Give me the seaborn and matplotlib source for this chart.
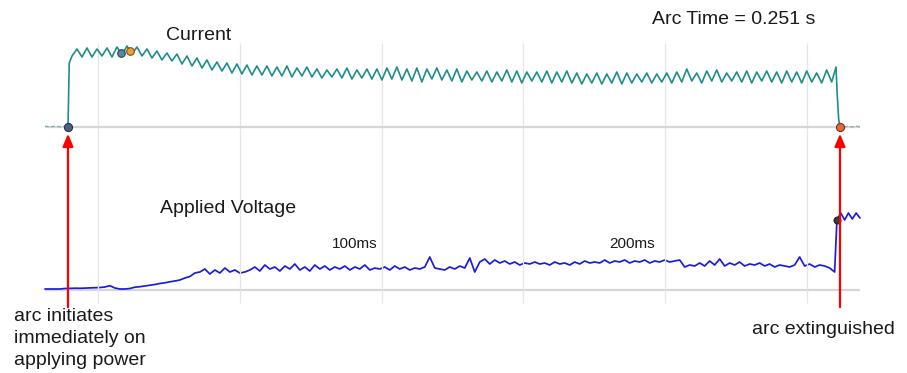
import numpy as np
import pandas as pd
import matplotlib
matplotlib.use("Agg")
import matplotlib.pyplot as plt
import seaborn as sns
from matplotlib.patches import FancyArrowPatch

sns.set_theme(style="white")
plt.rcParams["font.family"] = ["Liberation Sans", "DejaVu Sans"]

# ---------------------------------------------------------------- data
ARC_TIME_S = 0.251
ARC_END_MS = ARC_TIME_S * 1000.0
STEP_MS = 1.625            # spacing of the stored samples
PRE_MS = -7.5              # record starts before power is applied
POST_MS = 257.5            # record end
RIPPLE_START_MS = 1.3      # first ripple sample after the strike

# idle current before power is applied (A)
cur_pre = [1, 0, 1, 0, 1]
# strike: current jumps up when the arc forms
cur_strike = [0, 64]
# arc current, one sample per half ripple cycle (A)
cur_ripple = [
    71, 78, 70, 79, 70, 78, 71, 79, 70, 80, 72, 81, 73, 80, 71, 78, 69, 76, 67, 74,
    66, 73, 63, 71, 61, 69, 59, 67, 57, 65, 56, 64, 54, 63, 53, 62, 52, 61, 52, 61,
    51, 60, 51, 61, 50, 59, 51, 60, 50, 58, 49, 57, 50, 58, 49, 59, 48, 57, 49, 58,
    48, 58, 47, 59, 48, 60, 47, 58, 46, 59, 45, 58, 48, 59, 47, 57, 46, 58, 45, 56,
    47, 55, 46, 56, 45, 55, 46, 57, 45, 56, 44, 55, 46, 55, 45, 56, 44, 55, 45, 56,
    44, 54, 43, 53, 44, 54, 43, 53, 44, 55, 43, 54, 44, 53, 45, 54, 44, 53, 45, 54,
    44, 55, 45, 58, 46, 54, 44, 56, 46, 57, 45, 54, 46, 55, 45, 56, 44, 55, 46, 56,
    45, 55, 44, 56, 45, 55, 44, 56, 45, 54, 44, 57, 45,
]
# collapse at extinction (A)
cur_fall = [60, 30, 8, 0]
# idle current after the arc (A)
cur_post = [0, 1, 0, 1, 0]

# applied voltage from record start up to extinction (V)
volt_arc = [
    1, 1, 1, 1, 1.5, 1.7, 1.8, 1.7, 1.9, 2, 2.2, 2.5, 3, 4.3, 2, 1, 1, 1.5, 2.8, 3.3,
    4, 4.8, 5.5, 6.5, 7.2, 8.2, 9, 10, 12, 13.5, 17, 18, 21, 16, 20, 17, 22, 18, 20, 17,
    18, 20, 23, 19, 25, 21, 23, 19, 24, 21, 26, 20, 23, 19, 25, 21, 24, 20, 23, 21,
    24, 20, 23, 21, 25, 20, 22, 21, 23, 20, 24, 21, 23, 20, 22, 21, 23, 33, 22, 21,
    20, 23, 21, 24, 22, 32, 18, 28, 31, 26, 30, 27, 29, 26, 28, 25, 27, 26, 28, 26,
    27, 25, 28, 26, 27, 25, 28, 26, 29, 27, 28, 27, 30, 27, 29, 28, 30, 27, 29, 28,
    30, 27, 29, 28, 30, 28, 29, 30, 23, 25, 24, 27, 24, 29, 25, 31, 24, 27, 25, 28,
    24, 26, 25, 27, 24, 26, 23, 25, 24, 23, 25, 33, 24, 26, 23, 25, 24, 22, 18,
]
# open-circuit voltage once the arc is out (V)
volt_post = [70, 77, 70, 77, 71, 77, 72]

# scope grid
GRID_FIRST_MS = 9.75
GRID_STEP_MS = 46.1
GRID_COUNT = 6

# cursor times on the traces (ms)
cursor_peak_ms = [17.2, 20.2]
VOLT_JUMP_MS = 250.0

# ---------------------------------------------------------------- series
t_pre = np.linspace(PRE_MS, -0.7, len(cur_pre))
t_strike = np.array([0.0, 0.4])
t_ripple = RIPPLE_START_MS + np.arange(len(cur_ripple)) * STEP_MS
t_fall = np.linspace(t_ripple[-1] + 1.4, ARC_END_MS, len(cur_fall))
t_post = np.linspace(ARC_END_MS + 1.3, POST_MS, len(cur_post))

cur_main = pd.DataFrame({
    "t": np.concatenate([t_strike, t_ripple, t_fall]),
    "i": np.concatenate([cur_strike, cur_ripple, cur_fall]).astype(float),
})
cur_idle_pre = pd.DataFrame({"t": t_pre, "i": cur_pre})
cur_idle_post = pd.DataFrame({"t": t_post, "i": cur_post})

t_volt = PRE_MS + np.arange(len(volt_arc)) * STEP_MS
volt = pd.DataFrame({
    "t": np.concatenate([t_volt, np.linspace(VOLT_JUMP_MS, POST_MS, len(volt_post))]),
    "v": np.concatenate([volt_arc, volt_post]).astype(float),
})

# ---------------------------------------------------------------- figure
W, H = 907, 373
PX_PER_MS = 3.0757
X0_PX = 68                       # pixel column of t = 0
fig = plt.figure(figsize=(W / 100, H / 100), dpi=100)
ax_v = fig.add_axes([0, 0, 1, 1])
ax_i = fig.add_axes([0, 0, 1, 1])
for ax in (ax_v, ax_i):
    ax.set_axis_off()
    ax.patch.set_alpha(0)
    ax.set_xlim(-X0_PX / PX_PER_MS, (W - X0_PX) / PX_PER_MS)
# zero lines sit at rows 127 (current) and 290 (voltage)
ax_i.set_ylim(-(H - 127), 127)
ax_v.set_ylim(-(H - 290), 290)

TEAL = "#1f8d8c"
BLUE = "#1c1ce0"
GRID = "#e6e6e6"
ZERO = "#d6d6d6"

# vertical grid
grid_t = GRID_FIRST_MS + GRID_STEP_MS * np.arange(GRID_COUNT)
ax_i.vlines(grid_t, 127 - 303, 127 - 43, color=GRID, lw=0.9, zorder=0)

# zero lines
x_lo, x_hi = -23 / PX_PER_MS, 792 / PX_PER_MS
ax_i.hlines(0, x_lo, x_hi, color=ZERO, lw=1.6, zorder=1)
ax_v.hlines(0, x_lo, x_hi, color=ZERO, lw=1.6, zorder=1)

# current trace
sns.lineplot(data=cur_idle_pre, x="t", y="i", ax=ax_i, color=TEAL, lw=0.9,
             alpha=0.5, estimator=None, sort=False, linestyle=(0, (3, 2)))
sns.lineplot(data=cur_idle_post, x="t", y="i", ax=ax_i, color=TEAL, lw=0.9,
             alpha=0.5, estimator=None, sort=False, linestyle=(0, (3, 2)))
sns.lineplot(data=cur_main, x="t", y="i", ax=ax_i, color=TEAL, lw=1.2,
             estimator=None, sort=False)

# voltage trace
sns.lineplot(data=volt, x="t", y="v", ax=ax_v, color=BLUE, lw=1.25,
             estimator=None, sort=False)

# cursors
cur_t_all = cur_main["t"].to_numpy()
cur_i_all = cur_main["i"].to_numpy()
peak_vals = np.interp(cursor_peak_ms, cur_t_all, cur_i_all)
ax_i.scatter([0.0], [0.0], s=34, color="#4c5f86", edgecolor="#27324a", lw=0.8, zorder=6)
ax_i.scatter([cursor_peak_ms[0]], [peak_vals[0]], s=30, color="#5b86a6",
             edgecolor="#2c465f", lw=0.8, zorder=6)
ax_i.scatter([cursor_peak_ms[1]], [peak_vals[1]], s=30, color="#f0a030",
             edgecolor="#7d5418", lw=0.8, zorder=6)
ax_i.scatter([ARC_END_MS], [0.0], s=34, color="#e26a3a", edgecolor="#7a3218",
             lw=0.8, zorder=6)
ax_v.scatter([VOLT_JUMP_MS], [volt_post[0]], s=26, color="#3a3a3a",
             edgecolor="#111111", lw=0.6, zorder=6)

# red markers for arc start and end
for t in (0.0, ARC_END_MS):
    arr = FancyArrowPatch((t, 127 - 310), (t, 127 - 131),
                          arrowstyle="-|>,head_length=0.75,head_width=0.32",
                          mutation_scale=10, color="#ff0000", lw=1.6, zorder=8)
    ax_i.add_patch(arr)

# text
def px_text(x, y, s, **kw):
    fig.text(x / W, 1 - y / H, s, color="#1a1a1a", **kw)

px_text(166, 35, "Current", fontsize=14, va="center")
px_text(652, 19, f"Arc Time = {ARC_TIME_S:.3f} s", fontsize=14, va="center")
px_text(160, 208, "Applied Voltage", fontsize=14, va="center")
px_text(332, 244, "100ms", fontsize=11, va="center")
px_text(609, 244, "200ms", fontsize=11, va="center")
px_text(14, 308, "arc initiates\nimmediately on\napplying power",
        fontsize=14, va="top", linespacing=1.38)
px_text(752, 330, "arc extinguished", fontsize=14, va="center")

fig.savefig("out.png", dpi=100)
